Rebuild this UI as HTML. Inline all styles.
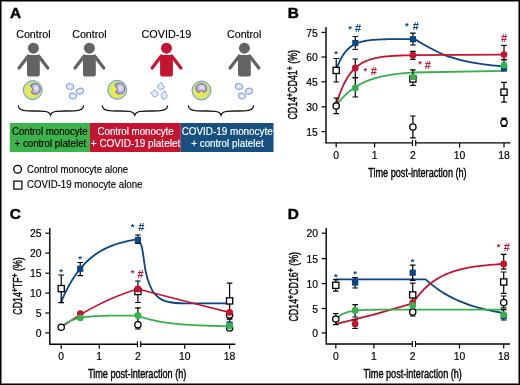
<!DOCTYPE html>
<html><head><meta charset="utf-8"><style>
html,body{margin:0;padding:0;background:#fff;}
#fig{position:relative;width:520px;height:385px;overflow:hidden;background:#fff;}
#fig svg{position:absolute;left:0;top:0;will-change:transform;}
#border{position:absolute;left:0;top:0;width:520px;height:385px;box-sizing:border-box;border:1px solid #000;box-shadow:inset 0 0 0 1px #7a7a7a;}
text{font-family:"Liberation Sans", sans-serif;}
</style></head><body><div id="fig">
<svg width="520" height="385" viewBox="0 0 520 385" font-family='"Liberation Sans", sans-serif'>
<defs><radialGradient id="gcell" cx="0.4" cy="0.6" r="0.62"><stop offset="0" stop-color="#f2f03c"/><stop offset="0.6" stop-color="#dde766"/><stop offset="1" stop-color="#c2de80"/></radialGradient><radialGradient id="gnuc" cx="0.55" cy="0.45" r="0.62"><stop offset="0" stop-color="#f4f0f8"/><stop offset="1" stop-color="#9a86c2"/></radialGradient><radialGradient id="gplt" cx="0.5" cy="0.55" r="0.6"><stop offset="0" stop-color="#eef3fc"/><stop offset="1" stop-color="#c9d8f2"/></radialGradient></defs><text x="9.9" y="18.4" font-size="15.4" text-anchor="start" fill="#000" font-weight="bold" stroke="#000" stroke-width="0.45" >A</text><text x="287.8" y="18.4" font-size="15.4" text-anchor="start" fill="#000" font-weight="bold" stroke="#000" stroke-width="0.45" >B</text><text x="9.7" y="219.2" font-size="15.4" text-anchor="start" fill="#000" font-weight="bold" stroke="#000" stroke-width="0.45" >C</text><text x="287.8" y="219.2" font-size="15.4" text-anchor="start" fill="#000" font-weight="bold" stroke="#000" stroke-width="0.45" >D</text><text x="33.4" y="37.6" font-size="10.7" text-anchor="middle" fill="#000" font-weight="normal" stroke="#000" stroke-width="0.15" >Control</text><text x="89.4" y="37.6" font-size="10.7" text-anchor="middle" fill="#000" font-weight="normal" stroke="#000" stroke-width="0.15" >Control</text><text x="166.4" y="37.7" font-size="10.8" text-anchor="middle" fill="#000" font-weight="normal" stroke="#000" stroke-width="0.15" >COVID-19</text><text x="244.2" y="37.6" font-size="10.7" text-anchor="middle" fill="#000" font-weight="normal" stroke="#000" stroke-width="0.15" >Control</text><g fill="#636363"><circle cx="33.4" cy="48.2" r="5.5"/><path d="M27,56.4 Q27,54.9 28.5,54.9 H38.3 Q39.8,54.9 39.8,56.4 V74.6 Q39.8,76.6 37.8,76.6 H29 Q27,76.6 27,74.6 Z"/><path d="M28.2,56 L19,68" stroke="#636363" stroke-width="3.2" stroke-linecap="round"/><path d="M38.6,56 L47.8,68" stroke="#636363" stroke-width="3.2" stroke-linecap="round"/></g><g fill="#636363"><circle cx="89.4" cy="48.2" r="5.5"/><path d="M83,56.4 Q83,54.9 84.5,54.9 H94.3 Q95.8,54.9 95.8,56.4 V74.6 Q95.8,76.6 93.8,76.6 H85 Q83,76.6 83,74.6 Z"/><path d="M84.2,56 L75,68" stroke="#636363" stroke-width="3.2" stroke-linecap="round"/><path d="M94.6,56 L103.8,68" stroke="#636363" stroke-width="3.2" stroke-linecap="round"/></g><g fill="#c51430"><circle cx="166.5" cy="48.2" r="5.5"/><path d="M160.1,56.4 Q160.1,54.9 161.6,54.9 H171.4 Q172.9,54.9 172.9,56.4 V74.6 Q172.9,76.6 170.9,76.6 H162.1 Q160.1,76.6 160.1,74.6 Z"/><path d="M161.3,56 L152.1,68" stroke="#c51430" stroke-width="3.2" stroke-linecap="round"/><path d="M171.7,56 L180.9,68" stroke="#c51430" stroke-width="3.2" stroke-linecap="round"/></g><g fill="#636363"><circle cx="244.4" cy="48.2" r="5.5"/><path d="M238,56.4 Q238,54.9 239.5,54.9 H249.3 Q250.8,54.9 250.8,56.4 V74.6 Q250.8,76.6 248.8,76.6 H240 Q238,76.6 238,74.6 Z"/><path d="M239.2,56 L230,68" stroke="#636363" stroke-width="3.2" stroke-linecap="round"/><path d="M249.6,56 L258.8,68" stroke="#636363" stroke-width="3.2" stroke-linecap="round"/></g><circle cx="32.7" cy="90.1" r="9.5" fill="#bcdc8e" stroke="#7594d6" stroke-width="1"/><circle cx="32.7" cy="90.1" r="8.3" fill="url(#gcell)"/><path d="M31.1,84.5 C35.7,81.7 41.3,85.1 40.1,90.5 C39.1,94.7 33.2,95.5 31.1,92.3 C32.3,90.7 33.3,88.7 32.5,87.9 C31.5,87.1 30.3,87.7 31.1,84.5 Z" fill="url(#gnuc)" stroke="#6460b4" stroke-width="0.9"/><circle cx="117.2" cy="89.8" r="9.5" fill="#bcdc8e" stroke="#7594d6" stroke-width="1"/><circle cx="117.2" cy="89.8" r="8.3" fill="url(#gcell)"/><path d="M115.6,84.2 C120.2,81.4 125.8,84.8 124.6,90.2 C123.6,94.4 117.7,95.2 115.6,92 C116.8,90.4 117.8,88.4 117,87.6 C116,86.8 114.8,87.4 115.6,84.2 Z" fill="url(#gnuc)" stroke="#6460b4" stroke-width="0.9"/><circle cx="201.5" cy="90.5" r="9.5" fill="#bcdc8e" stroke="#7594d6" stroke-width="1"/><circle cx="201.5" cy="90.5" r="8.3" fill="url(#gcell)"/><path d="M195.9,88.5 C195.1,82.9 206.1,81.5 206.5,88.1 C206.7,92.1 204.1,93.1 202.9,91.9 C202.3,90.1 200.7,89.9 200.1,91.7 C198.9,93.3 196.3,92.1 195.9,88.5 Z" fill="url(#gnuc)" stroke="#6460b4" stroke-width="0.9"/><ellipse cx="70" cy="86.5" rx="3.6" ry="2.9" transform="rotate(10 70 86.5)" fill="url(#gplt)" stroke="#809ddb" stroke-width="0.95"/><ellipse cx="80" cy="91.1" rx="3.6" ry="2.9" transform="rotate(-25 80 91.1)" fill="url(#gplt)" stroke="#809ddb" stroke-width="0.95"/><ellipse cx="72.9" cy="96" rx="3.6" ry="2.9" transform="rotate(15 72.9 96)" fill="url(#gplt)" stroke="#809ddb" stroke-width="0.95"/><ellipse cx="239" cy="86.5" rx="3.6" ry="2.9" transform="rotate(10 239 86.5)" fill="url(#gplt)" stroke="#809ddb" stroke-width="0.95"/><ellipse cx="249" cy="91.1" rx="3.6" ry="2.9" transform="rotate(-25 249 91.1)" fill="url(#gplt)" stroke="#809ddb" stroke-width="0.95"/><ellipse cx="241.9" cy="96" rx="3.6" ry="2.9" transform="rotate(15 241.9 96)" fill="url(#gplt)" stroke="#809ddb" stroke-width="0.95"/><path d="M164.18,86.35 C164.32,86.82 164.22,87.84 163.82,88.24 C163.41,88.63 162.25,88.38 161.74,88.71 C161.24,89.05 161.25,90.24 160.81,90.24 C160.38,90.23 159.66,89.2 159.12,88.67 C158.58,88.13 157.8,87.54 157.58,87.01 C157.36,86.48 157.52,85.85 157.78,85.47 C158.04,85.08 158.72,85.12 159.15,84.7 C159.59,84.27 159.85,83.14 160.39,82.93 C160.93,82.72 161.96,83.03 162.39,83.46 C162.81,83.88 162.65,84.98 162.95,85.47 C163.25,85.95 164.03,85.89 164.18,86.35Z" fill="#e2ebf9" stroke="#7d9bdb" stroke-width="0.95" stroke-linejoin="round"/><path d="M157.99,93.67 C157.95,94.05 157.57,94.68 157.3,95.13 C157.04,95.58 156.79,96.08 156.4,96.37 C156.01,96.66 155.52,96.88 154.96,96.86 C154.4,96.84 153.47,96.61 153.04,96.26 C152.61,95.9 152.77,95.3 152.38,94.74 C151.99,94.17 150.66,93.31 150.71,92.86 C150.76,92.41 152.05,92.54 152.69,92.07 C153.32,91.59 153.87,90.13 154.51,89.99 C155.15,89.85 156.03,90.74 156.54,91.22 C157.04,91.7 157.27,92.46 157.52,92.86 C157.76,93.27 158.02,93.29 157.99,93.67Z" fill="#e2ebf9" stroke="#7d9bdb" stroke-width="0.95" stroke-linejoin="round"/><path d="M167.08,95.35 C167.17,96 166.57,97.11 166.29,97.7 C166.01,98.29 165.78,98.67 165.41,98.89 C165.04,99.12 164.64,99.14 164.06,99.07 C163.49,99.01 162.33,98.91 161.98,98.52 C161.62,98.12 162.1,97.32 161.93,96.68 C161.76,96.05 160.79,95.27 160.96,94.7 C161.13,94.13 162.41,93.92 162.95,93.27 C163.49,92.61 163.77,90.99 164.21,90.77 C164.64,90.55 165.3,91.44 165.56,91.93 C165.82,92.43 165.52,93.19 165.77,93.76 C166.02,94.32 166.99,94.69 167.08,95.35Z" fill="#e2ebf9" stroke="#7d9bdb" stroke-width="0.95" stroke-linejoin="round"/><path d="M18.3,106 C18.5,109.6 21.3,110.6 27.3,110.9 C34.3,111.3 36.5,110.7 44.5,111.3 C48,111.6 49.7,112.6 50.5,115.1 C51.3,112.6 53,111.6 56.5,111.3 C64.5,110.7 67.5,111.3 74.5,110.9 C80.5,110.6 83.3,109.6 83.5,106" fill="none" stroke="#1a1a1a" stroke-width="1.35" stroke-linecap="round"/><path d="M102.3,106 C102.5,109.6 105.3,110.6 111.3,110.9 C118.3,111.3 120.8,110.7 128.8,111.3 C132.3,111.6 134,112.6 134.8,115.1 C135.6,112.6 137.3,111.6 140.8,111.3 C148.8,110.7 151.6,111.3 158.6,110.9 C164.6,110.6 167.4,109.6 167.6,106" fill="none" stroke="#1a1a1a" stroke-width="1.35" stroke-linecap="round"/><path d="M188.4,106 C188.6,109.6 191.4,110.6 197.4,110.9 C204.4,111.3 207,110.7 215,111.3 C218.5,111.6 220.2,112.6 221,115.1 C221.8,112.6 223.5,111.6 227,111.3 C235,110.7 237.5,111.3 244.5,110.9 C250.5,110.6 253.3,109.6 253.5,106" fill="none" stroke="#1a1a1a" stroke-width="1.35" stroke-linecap="round"/><rect x="9.8" y="123" width="80.2" height="29" fill="#3cb44b"/><rect x="90" y="123" width="90.8" height="29" fill="#c51430"/><rect x="180.8" y="123" width="92.7" height="29" fill="#155081"/><text x="49.8" y="135.4" font-size="10" text-anchor="middle" fill="#000" font-weight="normal" stroke="#000" stroke-width="0.15" textLength="75.8" lengthAdjust="spacingAndGlyphs">Control monocyte</text><text x="50.4" y="147.4" font-size="10" text-anchor="middle" fill="#000" font-weight="normal" stroke="#000" stroke-width="0.15" textLength="71.8" lengthAdjust="spacingAndGlyphs">+ control platelet</text><text x="135.6" y="135.4" font-size="10" text-anchor="middle" fill="#fff" font-weight="normal" stroke="#fff" stroke-width="0.15" textLength="76.3" lengthAdjust="spacingAndGlyphs">Control monocyte</text><text x="135.5" y="147.4" font-size="10" text-anchor="middle" fill="#fff" font-weight="normal" stroke="#fff" stroke-width="0.15" textLength="89.4" lengthAdjust="spacingAndGlyphs">+ COVID-19 platelet</text><text x="227.2" y="135.4" font-size="10" text-anchor="middle" fill="#fff" font-weight="normal" stroke="#fff" stroke-width="0.15" textLength="91" lengthAdjust="spacingAndGlyphs">COVID-19 monocyte</text><text x="227.5" y="147.4" font-size="10" text-anchor="middle" fill="#fff" font-weight="normal" stroke="#fff" stroke-width="0.15" textLength="72.5" lengthAdjust="spacingAndGlyphs">+ control platelet</text><circle cx="17.6" cy="169.3" r="3.85" fill="#fff" stroke="#000" stroke-width="1.3"/><rect x="13.9" y="181.1" width="8" height="8" fill="#fff" stroke="#000" stroke-width="1.2"/><text x="27" y="172.6" font-size="10" text-anchor="start" fill="#000" font-weight="normal" stroke="#000" stroke-width="0.15" textLength="101.2" lengthAdjust="spacingAndGlyphs">Control monocyte alone</text><text x="27" y="188.2" font-size="10" text-anchor="start" fill="#000" font-weight="normal" stroke="#000" stroke-width="0.15" textLength="115.5" lengthAdjust="spacingAndGlyphs">COVID-19 monocyte alone</text><path d="M326,27V142.9H510.5" fill="none" stroke="#000" stroke-width="1.4" stroke-linejoin="miter"/><path d="M321.5,32.4H326" stroke="#000" stroke-width="1.2"/><text x="317.8" y="36.5" font-size="10.4" text-anchor="end" fill="#000" font-weight="normal" stroke="#000" stroke-width="0.18">75</text><path d="M321.5,57H326" stroke="#000" stroke-width="1.2"/><text x="317.8" y="61.1" font-size="10.4" text-anchor="end" fill="#000" font-weight="normal" stroke="#000" stroke-width="0.18">60</text><path d="M321.5,81.8H326" stroke="#000" stroke-width="1.2"/><text x="317.8" y="85.9" font-size="10.4" text-anchor="end" fill="#000" font-weight="normal" stroke="#000" stroke-width="0.18">45</text><path d="M321.5,106.8H326" stroke="#000" stroke-width="1.2"/><text x="317.8" y="110.9" font-size="10.4" text-anchor="end" fill="#000" font-weight="normal" stroke="#000" stroke-width="0.18">30</text><path d="M321.5,131.6H326" stroke="#000" stroke-width="1.2"/><text x="317.8" y="135.7" font-size="10.4" text-anchor="end" fill="#000" font-weight="normal" stroke="#000" stroke-width="0.18">15</text><path d="M336.2,142.9V147.4" stroke="#000" stroke-width="1.2"/><text x="336.2" y="158.9" font-size="10.4" text-anchor="middle" fill="#000" font-weight="normal" stroke="#000" stroke-width="0.18">0</text><path d="M374.6,142.9V147.4" stroke="#000" stroke-width="1.2"/><text x="374.6" y="158.9" font-size="10.4" text-anchor="middle" fill="#000" font-weight="normal" stroke="#000" stroke-width="0.18">1</text><rect x="412.9" y="140.9" width="2.4" height="4" fill="#fff"/><path d="M412.5,140V146M415.7,140V146" stroke="#000" stroke-width="1.15"/><text x="412.9" y="158.9" font-size="10.4" text-anchor="middle" fill="#000" font-weight="normal" stroke="#000" stroke-width="0.18">2</text><path d="M459.6,142.9V147.4" stroke="#000" stroke-width="1.2"/><text x="459.6" y="158.9" font-size="10.4" text-anchor="middle" fill="#000" font-weight="normal" stroke="#000" stroke-width="0.18">10</text><path d="M504,142.9V147.4" stroke="#000" stroke-width="1.2"/><text x="504" y="158.9" font-size="10.4" text-anchor="middle" fill="#000" font-weight="normal" stroke="#000" stroke-width="0.18">18</text><text transform="translate(297.4,119.6) rotate(-90)" font-size="12.5" stroke="#000" stroke-width="0.4" textLength="69.6" lengthAdjust="spacingAndGlyphs">CD14<tspan font-size="9.5" font-weight="bold" dy="-4.2">+</tspan><tspan dy="4.2">CD41</tspan><tspan font-size="9.5" font-weight="bold" dy="-4.2">+</tspan><tspan dy="4.2"> (%)</tspan></text><text x="368.3" y="176.5" font-size="12" stroke="#000" stroke-width="0.4" textLength="98.3" lengthAdjust="spacingAndGlyphs">Time post-interaction (h)</text><path d="M336,70.4 L337.92,65.15 L339.85,60.77 L341.77,57.13 L343.69,54.1 L345.61,51.57 L347.53,49.47 L349.46,47.72 L351.38,46.26 L353.3,45.04 L355.23,44.03 L357.15,43.19 L359.07,42.49 L360.99,41.91 L362.91,41.42 L364.84,41.01 L366.76,40.68 L368.68,40.4 L370.61,40.16 L372.53,39.97 L374.45,39.81 L376.37,39.67 L378.29,39.56 L380.22,39.47 L382.14,39.39 L384.06,39.32 L385.99,39.27 L387.91,39.22 L389.83,39.19 L391.75,39.16 L393.67,39.13 L395.6,39.11 L397.52,39.09 L399.44,39.07 L401.37,39.06 L403.29,39.05 L405.21,39.04 L407.13,39.04 L409.05,39.03 L410.98,39.02 L412.9,39.02" fill="none" stroke="#0a4584" stroke-width="1.8" stroke-linecap="round" stroke-linejoin="round"/><path d="M412.9,39.2 C413.42,39.32 413.6,38.68 416,39.9 C418.4,41.12 422.72,44.05 427.3,46.5 C431.88,48.95 438.68,52.55 443.5,54.6 C448.32,56.65 451.78,57.55 456.2,58.8 C460.62,60.05 465.07,61.13 470,62.1 C474.93,63.07 480.13,63.88 485.8,64.6 C491.47,65.32 500.97,66.1 504,66.4" fill="none" stroke="#0a4584" stroke-width="1.8" stroke-linecap="round" stroke-linejoin="round"/><path d="M336,105.9 L337.92,99.41 L339.85,93.75 L341.77,88.81 L343.69,84.5 L345.61,80.74 L347.53,77.46 L349.46,74.6 L351.38,72.1 L353.3,69.92 L355.23,68.02 L357.15,66.36 L359.07,64.91 L360.99,63.65 L362.91,62.55 L364.84,61.58 L366.76,60.74 L368.68,60.01 L370.61,59.37 L372.53,58.82 L374.45,58.33 L376.37,57.91 L378.29,57.54 L380.22,57.21 L382.14,56.93 L384.06,56.68 L385.99,56.47 L387.91,56.28 L389.83,56.12 L391.75,55.98 L393.67,55.85 L395.6,55.74 L397.52,55.65 L399.44,55.57 L401.37,55.49 L403.29,55.43 L405.21,55.38 L407.13,55.33 L409.05,55.29 L410.98,55.25 L412.9,55.22 L504,54.6" fill="none" stroke="#c51430" stroke-width="1.8" stroke-linecap="round" stroke-linejoin="round"/><path d="M336,105.9 L337.92,103.31 L339.85,100.91 L341.77,98.69 L343.69,96.63 L345.61,94.73 L347.53,92.96 L349.46,91.33 L351.38,89.82 L353.3,88.42 L355.23,87.12 L357.15,85.92 L359.07,84.81 L360.99,83.78 L362.91,82.83 L364.84,81.94 L366.76,81.13 L368.68,80.37 L370.61,79.67 L372.53,79.02 L374.45,78.42 L376.37,77.86 L378.29,77.35 L380.22,76.87 L382.14,76.43 L384.06,76.02 L385.99,75.64 L387.91,75.29 L389.83,74.96 L391.75,74.66 L393.67,74.38 L395.6,74.13 L397.52,73.89 L399.44,73.67 L401.37,73.46 L403.29,73.27 L405.21,73.1 L407.13,72.93 L409.05,72.78 L410.98,72.64 L412.9,72.52 L504,70.9" fill="none" stroke="#35b34a" stroke-width="1.8" stroke-linecap="round" stroke-linejoin="round"/><path d="M336.2,58.5V82M333.4,58.5H339M333.4,82H339" stroke="#000" stroke-width="1.2" fill="none"/><rect x="333.1" y="67.3" width="6.2" height="6.2" fill="#fff" stroke="#000" stroke-width="1.3"/><text x="336" y="57.4" font-size="9.5" font-weight="bold" text-anchor="middle" fill="#0a4584">*</text><path d="M336.2,98V113.6M333.4,98H339M333.4,113.6H339" stroke="#000" stroke-width="1.2" fill="none"/><circle cx="336.2" cy="105.9" r="3.15" fill="#fff" stroke="#000" stroke-width="1.3"/><path d="M355.3,36.5V49.5M352.5,36.5H358.1M352.5,49.5H358.1" stroke="#000" stroke-width="1.2" fill="none"/><rect x="352.2" y="39.9" width="6.2" height="6.2" fill="#0a4584"/><text x="350" y="32.2" font-size="9.5" font-weight="bold" text-anchor="middle" fill="#0a4584">*</text><text x="355" y="31.7" font-size="11" font-weight="bold" fill="#0a4584">#</text><path d="M355.3,59V77.6M352.5,59H358.1M352.5,77.6H358.1" stroke="#000" stroke-width="1.2" fill="none"/><path d="M355.3,77.6V97M352.5,77.6H358.1M352.5,97H358.1" stroke="#000" stroke-width="1.2" fill="none"/><circle cx="355.3" cy="68" r="3.4" fill="#c51430"/><circle cx="355.3" cy="88" r="3.4" fill="#35b34a"/><text x="365.4" y="73.7" font-size="9.5" font-weight="bold" text-anchor="middle" fill="#c51430">*</text><text x="370.7" y="74.6" font-size="11" font-weight="bold" fill="#c51430">#</text><path d="M412.9,33.2V45M410.1,33.2H415.7M410.1,45H415.7" stroke="#000" stroke-width="1.2" fill="none"/><rect x="409.8" y="36.1" width="6.2" height="6.2" fill="#0a4584"/><text x="406.9" y="28.7" font-size="9.5" font-weight="bold" text-anchor="middle" fill="#0a4584">*</text><text x="412.7" y="29.7" font-size="11" font-weight="bold" fill="#0a4584">#</text><path d="M412.9,51.3V59.3M410.1,51.3H415.7M410.1,59.3H415.7" stroke="#000" stroke-width="1.2" fill="none"/><circle cx="412.9" cy="55.2" r="3.4" fill="#c51430"/><text x="420" y="67.3" font-size="9.5" font-weight="bold" text-anchor="middle" fill="#c51430">*</text><text x="424.7" y="68.5" font-size="11" font-weight="bold" fill="#c51430">#</text><path d="M412.9,69.8V85.3M410.1,69.8H415.7M410.1,85.3H415.7" stroke="#000" stroke-width="1.2" fill="none"/><rect x="409.8" y="75.9" width="6.2" height="6.2" fill="#fff" stroke="#000" stroke-width="1.3"/><circle cx="412.9" cy="77" r="3.2" fill="#35b34a"/><path d="M412.9,116V137.8M410.1,116H415.7M410.1,137.8H415.7" stroke="#000" stroke-width="1.2" fill="none"/><circle cx="412.9" cy="127" r="3.15" fill="#fff" stroke="#000" stroke-width="1.3"/><path d="M504,45.4V59.7M501.2,45.4H506.8M501.2,59.7H506.8" stroke="#000" stroke-width="1.2" fill="none"/><circle cx="504" cy="54.6" r="3.4" fill="#c51430"/><text x="500.9" y="41.8" font-size="11" font-weight="bold" fill="#c51430">#</text><path d="M504,59.7V70.6M501.2,59.7H506.8M501.2,70.6H506.8" stroke="#000" stroke-width="1.2" fill="none"/><rect x="500.9" y="65.2" width="6.2" height="6.2" fill="#0a4584"/><circle cx="504" cy="65.2" r="3.4" fill="#35b34a"/><path d="M504,82.4V102.2M501.2,82.4H506.8M501.2,102.2H506.8" stroke="#000" stroke-width="1.2" fill="none"/><rect x="500.9" y="89.1" width="6.2" height="6.2" fill="#fff" stroke="#000" stroke-width="1.3"/><path d="M504,118.2V126.4M501.2,118.2H506.8M501.2,126.4H506.8" stroke="#000" stroke-width="1.2" fill="none"/><circle cx="504" cy="122.4" r="3.15" fill="#fff" stroke="#000" stroke-width="1.3"/><path d="M49.8,228V344.2H235.3" fill="none" stroke="#000" stroke-width="1.4" stroke-linejoin="miter"/><path d="M45.3,233.2H49.8" stroke="#000" stroke-width="1.2"/><text x="41.6" y="237.3" font-size="10.4" text-anchor="end" fill="#000" font-weight="normal" stroke="#000" stroke-width="0.18">25</text><path d="M45.3,253.1H49.8" stroke="#000" stroke-width="1.2"/><text x="41.6" y="257.2" font-size="10.4" text-anchor="end" fill="#000" font-weight="normal" stroke="#000" stroke-width="0.18">20</text><path d="M45.3,273.2H49.8" stroke="#000" stroke-width="1.2"/><text x="41.6" y="277.3" font-size="10.4" text-anchor="end" fill="#000" font-weight="normal" stroke="#000" stroke-width="0.18">15</text><path d="M45.3,293.1H49.8" stroke="#000" stroke-width="1.2"/><text x="41.6" y="297.2" font-size="10.4" text-anchor="end" fill="#000" font-weight="normal" stroke="#000" stroke-width="0.18">10</text><path d="M45.3,313H49.8" stroke="#000" stroke-width="1.2"/><text x="41.6" y="317.1" font-size="10.4" text-anchor="end" fill="#000" font-weight="normal" stroke="#000" stroke-width="0.18">5</text><path d="M45.3,332.9H49.8" stroke="#000" stroke-width="1.2"/><text x="41.6" y="337" font-size="10.4" text-anchor="end" fill="#000" font-weight="normal" stroke="#000" stroke-width="0.18">0</text><path d="M61.2,344.2V348.7" stroke="#000" stroke-width="1.2"/><text x="61.2" y="360.2" font-size="10.4" text-anchor="middle" fill="#000" font-weight="normal" stroke="#000" stroke-width="0.18">0</text><path d="M99.2,344.2V348.7" stroke="#000" stroke-width="1.2"/><text x="99.2" y="360.2" font-size="10.4" text-anchor="middle" fill="#000" font-weight="normal" stroke="#000" stroke-width="0.18">1</text><rect x="137.9" y="342.2" width="2.4" height="4" fill="#fff"/><path d="M137.5,341.3V347.3M140.7,341.3V347.3" stroke="#000" stroke-width="1.15"/><text x="137.9" y="360.2" font-size="10.4" text-anchor="middle" fill="#000" font-weight="normal" stroke="#000" stroke-width="0.18">2</text><path d="M184.7,344.2V348.7" stroke="#000" stroke-width="1.2"/><text x="184.7" y="360.2" font-size="10.4" text-anchor="middle" fill="#000" font-weight="normal" stroke="#000" stroke-width="0.18">10</text><path d="M229.6,344.2V348.7" stroke="#000" stroke-width="1.2"/><text x="229.6" y="360.2" font-size="10.4" text-anchor="middle" fill="#000" font-weight="normal" stroke="#000" stroke-width="0.18">18</text><text transform="translate(21.7,314.7) rotate(-90)" font-size="12.5" stroke="#000" stroke-width="0.4" textLength="57.4" lengthAdjust="spacingAndGlyphs">CD14<tspan font-size="9.5" font-weight="bold" dy="-4.2">+</tspan><tspan dy="4.2">TF</tspan><tspan font-size="9.5" font-weight="bold" dy="-4.2">+</tspan><tspan dy="4.2"> (%)</tspan></text><text x="88" y="377.7" font-size="12" stroke="#000" stroke-width="0.4" textLength="98.3" lengthAdjust="spacingAndGlyphs">Time post-interaction (h)</text><path d="M61,302.4 L62.92,297.88 L64.84,293.66 L66.77,289.73 L68.69,286.06 L70.61,282.64 L72.53,279.44 L74.46,276.46 L76.38,273.68 L78.3,271.09 L80.22,268.67 L82.15,266.41 L84.07,264.31 L85.99,262.34 L87.92,260.51 L89.84,258.8 L91.76,257.2 L93.68,255.71 L95.61,254.32 L97.53,253.03 L99.45,251.82 L101.37,250.69 L103.3,249.64 L105.22,248.66 L107.14,247.74 L109.06,246.89 L110.98,246.09 L112.91,245.35 L114.83,244.65 L116.75,244.01 L118.67,243.4 L120.6,242.84 L122.52,242.31 L124.44,241.82 L126.37,241.37 L128.29,240.94 L130.21,240.54 L132.13,240.17 L134.06,239.82 L135.98,239.5 L137.9,239.2" fill="none" stroke="#0a4584" stroke-width="1.8" stroke-linecap="round" stroke-linejoin="round"/><path d="M137.9,240 C138.35,240.58 139.82,241.7 140.6,243.5 C141.38,245.3 141.77,246.22 142.6,250.8 C143.43,255.38 144.42,265.3 145.6,271 C146.78,276.7 148.15,281.13 149.7,285 C151.25,288.87 152.65,291.63 154.9,294.2 C157.15,296.77 159.73,298.93 163.2,300.4 C166.67,301.87 171.23,302.5 175.7,303 C180.17,303.5 181.02,303.33 190,303.4 C198.98,303.47 223,303.4 229.6,303.4" fill="none" stroke="#0a4584" stroke-width="1.8" stroke-linecap="round" stroke-linejoin="round"/><path d="M61.2,327.2 Q100,300 137.9,289 Q180,300 229.6,312.4" fill="none" stroke="#c51430" stroke-width="1.8" stroke-linecap="round" stroke-linejoin="round"/><path d="M61,327.2 L62.92,325.47 L64.84,323.99 L66.77,322.74 L68.69,321.66 L70.61,320.75 L72.53,319.97 L74.46,319.31 L76.38,318.75 L78.3,318.27 L80.22,317.86 L82.15,317.51 L84.07,317.21 L85.99,316.96 L87.92,316.74 L89.84,316.56 L91.76,316.4 L93.68,316.27 L95.61,316.15 L97.53,316.06 L99.45,315.97 L101.37,315.9 L103.3,315.84 L105.22,315.79 L107.14,315.75 L109.06,315.71 L110.98,315.68 L112.91,315.65 L114.83,315.63 L116.75,315.61 L118.67,315.6 L120.6,315.58 L122.52,315.57 L124.44,315.56 L126.37,315.55 L128.29,315.54 L130.21,315.54 L132.13,315.53 L134.06,315.53 L135.98,315.52 L137.9,315.52 L137.9,315.7 L140.19,316.56 L142.49,317.35 L144.78,318.07 L147.07,318.74 L149.36,319.36 L151.66,319.93 L153.95,320.46 L156.24,320.94 L158.53,321.38 L160.82,321.79 L163.12,322.17 L165.41,322.52 L167.7,322.84 L170,323.14 L172.29,323.41 L174.58,323.66 L176.87,323.89 L179.17,324.1 L181.46,324.3 L183.75,324.48 L186.04,324.65 L188.33,324.8 L190.63,324.94 L192.92,325.07 L195.21,325.19 L197.5,325.3 L199.8,325.41 L202.09,325.5 L204.38,325.59 L206.68,325.67 L208.97,325.74 L211.26,325.81 L213.55,325.87 L215.84,325.93 L218.14,325.98 L220.43,326.03 L222.72,326.07 L225.01,326.11 L227.31,326.15 L229.6,326.19" fill="none" stroke="#35b34a" stroke-width="1.8" stroke-linecap="round" stroke-linejoin="round"/><path d="M61.2,275V302.6M58.4,275H64M58.4,302.6H64" stroke="#000" stroke-width="1.2" fill="none"/><rect x="58.1" y="285.5" width="6.2" height="6.2" fill="#fff" stroke="#000" stroke-width="1.3"/><text x="61.2" y="274.7" font-size="9.5" font-weight="bold" text-anchor="middle" fill="#0a4584">*</text><circle cx="61.2" cy="327.2" r="3.15" fill="#fff" stroke="#000" stroke-width="1.3"/><path d="M80.2,262.5V275.6M77.4,262.5H83M77.4,275.6H83" stroke="#000" stroke-width="1.2" fill="none"/><rect x="77.1" y="265.7" width="6.2" height="6.2" fill="#0a4584"/><text x="80.2" y="261.7" font-size="9.5" font-weight="bold" text-anchor="middle" fill="#0a4584">*</text><circle cx="80.3" cy="313.6" r="3.4" fill="#c51430"/><circle cx="80.3" cy="317.8" r="3.4" fill="#35b34a"/><path d="M137.9,235V243.3M135.1,235H140.7M135.1,243.3H140.7" stroke="#000" stroke-width="1.2" fill="none"/><rect x="134.8" y="236.9" width="6.2" height="6.2" fill="#0a4584"/><text x="132.5" y="230.4" font-size="9.5" font-weight="bold" text-anchor="middle" fill="#0a4584">*</text><text x="138.3" y="231.1" font-size="11" font-weight="bold" fill="#0a4584">#</text><text x="132.5" y="276.2" font-size="9.5" font-weight="bold" text-anchor="middle" fill="#c51430">*</text><text x="137.6" y="277.5" font-size="11" font-weight="bold" fill="#c51430">#</text><path d="M137.9,281V302.5M135.1,281H140.7M135.1,302.5H140.7" stroke="#000" stroke-width="1.2" fill="none"/><rect x="134.8" y="288.4" width="6.2" height="6.2" fill="#fff" stroke="#000" stroke-width="1.3"/><circle cx="137.9" cy="289" r="3.4" fill="#c51430"/><path d="M137.9,307.9V329M135.1,307.9H140.7M135.1,329H140.7" stroke="#000" stroke-width="1.2" fill="none"/><circle cx="137.9" cy="324.8" r="3.15" fill="#fff" stroke="#000" stroke-width="1.3"/><circle cx="137.9" cy="315.5" r="3.4" fill="#35b34a"/><path d="M229.6,283.1V319M226.8,283.1H232.4M226.8,319H232.4" stroke="#000" stroke-width="1.2" fill="none"/><rect x="226.5" y="297.8" width="6.2" height="6.2" fill="#fff" stroke="#000" stroke-width="1.3"/><circle cx="229.6" cy="315" r="3.15" fill="#fff" stroke="#000" stroke-width="1.3"/><circle cx="229.6" cy="312.4" r="3.4" fill="#c51430"/><path d="M229.6,319V330M226.8,319H232.4M226.8,330H232.4" stroke="#000" stroke-width="1.2" fill="none"/><circle cx="229.6" cy="328" r="3.15" fill="#fff" stroke="#000" stroke-width="1.3"/><rect x="226.5" y="321.4" width="6.2" height="6.2" fill="#0a4584"/><circle cx="229.6" cy="326" r="3.4" fill="#35b34a"/><path d="M326.2,228V344H510" fill="none" stroke="#000" stroke-width="1.4" stroke-linejoin="miter"/><path d="M321.7,233.2H326.2" stroke="#000" stroke-width="1.2"/><text x="318" y="237.3" font-size="10.4" text-anchor="end" fill="#000" font-weight="normal" stroke="#000" stroke-width="0.18">20</text><path d="M321.7,258.6H326.2" stroke="#000" stroke-width="1.2"/><text x="318" y="262.7" font-size="10.4" text-anchor="end" fill="#000" font-weight="normal" stroke="#000" stroke-width="0.18">15</text><path d="M321.7,283.6H326.2" stroke="#000" stroke-width="1.2"/><text x="318" y="287.7" font-size="10.4" text-anchor="end" fill="#000" font-weight="normal" stroke="#000" stroke-width="0.18">10</text><path d="M321.7,308.5H326.2" stroke="#000" stroke-width="1.2"/><text x="318" y="312.6" font-size="10.4" text-anchor="end" fill="#000" font-weight="normal" stroke="#000" stroke-width="0.18">5</text><path d="M321.7,332.9H326.2" stroke="#000" stroke-width="1.2"/><text x="318" y="337" font-size="10.4" text-anchor="end" fill="#000" font-weight="normal" stroke="#000" stroke-width="0.18">0</text><path d="M335.8,344V348.5" stroke="#000" stroke-width="1.2"/><text x="335.8" y="360" font-size="10.4" text-anchor="middle" fill="#000" font-weight="normal" stroke="#000" stroke-width="0.18">0</text><path d="M373.9,344V348.5" stroke="#000" stroke-width="1.2"/><text x="373.9" y="360" font-size="10.4" text-anchor="middle" fill="#000" font-weight="normal" stroke="#000" stroke-width="0.18">1</text><rect x="412.7" y="342" width="2.4" height="4" fill="#fff"/><path d="M412.3,341.1V347.1M415.5,341.1V347.1" stroke="#000" stroke-width="1.15"/><text x="412.7" y="360" font-size="10.4" text-anchor="middle" fill="#000" font-weight="normal" stroke="#000" stroke-width="0.18">2</text><path d="M459.5,344V348.5" stroke="#000" stroke-width="1.2"/><text x="459.5" y="360" font-size="10.4" text-anchor="middle" fill="#000" font-weight="normal" stroke="#000" stroke-width="0.18">10</text><path d="M503.7,344V348.5" stroke="#000" stroke-width="1.2"/><text x="503.7" y="360" font-size="10.4" text-anchor="middle" fill="#000" font-weight="normal" stroke="#000" stroke-width="0.18">18</text><text transform="translate(297.9,321.6) rotate(-90)" font-size="12.5" stroke="#000" stroke-width="0.4" textLength="69.6" lengthAdjust="spacingAndGlyphs">CD14<tspan font-size="9.5" font-weight="bold" dy="-4.2">+</tspan><tspan dy="4.2">CD16</tspan><tspan font-size="9.5" font-weight="bold" dy="-4.2">+</tspan><tspan dy="4.2"> (%)</tspan></text><text x="363.6" y="377.7" font-size="12" stroke="#000" stroke-width="0.4" textLength="98.3" lengthAdjust="spacingAndGlyphs">Time post-interaction (h)</text><path d="M335.8,279.3 L425.6,279.3 L425.6,279.3 L427.55,281.07 L429.5,282.76 L431.46,284.38 L433.41,285.93 L435.36,287.4 L437.31,288.82 L439.27,290.17 L441.22,291.46 L443.17,292.7 L445.12,293.88 L447.08,295.01 L449.03,296.1 L450.98,297.13 L452.94,298.12 L454.89,299.06 L456.84,299.97 L458.79,300.83 L460.75,301.66 L462.7,302.45 L464.65,303.2 L466.6,303.93 L468.56,304.62 L470.51,305.28 L472.46,305.91 L474.41,306.51 L476.37,307.09 L478.32,307.64 L480.27,308.17 L482.22,308.68 L484.18,309.16 L486.13,309.62 L488.08,310.06 L490.03,310.48 L491.99,310.89 L493.94,311.27 L495.89,311.64 L497.84,311.99 L499.79,312.33 L501.75,312.65 L503.7,312.96" fill="none" stroke="#0a4584" stroke-width="1.8" stroke-linecap="round" stroke-linejoin="round"/><path d="M335.8,324.2 Q375,315 412.7,303.4 L412.7,303.4 L414.97,300.05 L417.25,296.98 L419.52,294.16 L421.8,291.57 L424.07,289.2 L426.35,287.02 L428.62,285.02 L430.9,283.18 L433.18,281.49 L435.45,279.95 L437.72,278.53 L440,277.23 L442.27,276.03 L444.55,274.94 L446.82,273.93 L449.1,273.01 L451.38,272.16 L453.65,271.38 L455.93,270.67 L458.2,270.01 L460.47,269.41 L462.75,268.86 L465.02,268.35 L467.3,267.89 L469.57,267.46 L471.85,267.07 L474.12,266.71 L476.4,266.38 L478.67,266.08 L480.95,265.8 L483.23,265.54 L485.5,265.31 L487.77,265.09 L490.05,264.9 L492.32,264.72 L494.6,264.55 L496.88,264.4 L499.15,264.26 L501.42,264.13 L503.7,264.01" fill="none" stroke="#c51430" stroke-width="1.8" stroke-linecap="round" stroke-linejoin="round"/><path d="M335.8,319 L340,315.5 L344.19,313.3 L348.39,311.92 L352.59,311.06 L356.79,310.51 L360.99,310.17 L365.18,309.96 L369.38,309.83 L373.58,309.74 L377.77,309.69 L381.97,309.66 L386.17,309.63 L390.37,309.62 L394.56,309.61 L398.76,309.61 L402.96,309.61 L407.16,309.6 L411.36,309.6 L415.55,309.6 L419.75,309.6 L423.95,309.6 L428.14,309.6 L432.34,309.6 L436.54,309.6 L440.74,309.6 L444.94,309.6 L449.13,309.6 L453.33,309.6 L457.53,309.6 L461.73,309.6 L465.92,309.6 L470.12,309.6 L474.32,309.6 L478.51,309.6 L482.71,309.6 L486.91,309.6 L491.11,309.6 L495.3,309.6 L499.5,309.6 L503.7,309.6" fill="none" stroke="#35b34a" stroke-width="1.8" stroke-linecap="round" stroke-linejoin="round"/><path d="M335.8,279.7V291.1M333,279.7H338.6M333,291.1H338.6" stroke="#000" stroke-width="1.2" fill="none"/><rect x="332.7" y="282.2" width="6.2" height="6.2" fill="#fff" stroke="#000" stroke-width="1.3"/><text x="335.8" y="279.5" font-size="9.5" font-weight="bold" text-anchor="middle" fill="#0a4584">*</text><path d="M335.8,313.5V324.7M333,313.5H338.6M333,324.7H338.6" stroke="#000" stroke-width="1.2" fill="none"/><circle cx="335.8" cy="319.1" r="3.15" fill="#fff" stroke="#000" stroke-width="1.3"/><path d="M355.1,277.6V288M352.3,277.6H357.9M352.3,288H357.9" stroke="#000" stroke-width="1.2" fill="none"/><rect x="351.9" y="279.2" width="6.4" height="6.4" fill="#0a4584"/><text x="355.1" y="276.8" font-size="9.5" font-weight="bold" text-anchor="middle" fill="#0a4584">*</text><path d="M355.1,304.6V317M352.3,304.6H357.9M352.3,317H357.9" stroke="#000" stroke-width="1.2" fill="none"/><circle cx="355.1" cy="310.4" r="3.4" fill="#35b34a"/><path d="M355.1,320V328.5M352.3,320H357.9M352.3,328.5H357.9" stroke="#000" stroke-width="1.2" fill="none"/><circle cx="355.1" cy="323.9" r="3.4" fill="#c51430"/><path d="M412.7,265.2V280.4M409.9,265.2H415.5M409.9,280.4H415.5" stroke="#000" stroke-width="1.2" fill="none"/><rect x="409.6" y="269.6" width="6.2" height="6.2" fill="#0a4584"/><text x="412.7" y="264.7" font-size="9.5" font-weight="bold" text-anchor="middle" fill="#0a4584">*</text><path d="M412.7,283.2V316M409.9,283.2H415.5M409.9,316H415.5" stroke="#000" stroke-width="1.2" fill="none"/><rect x="409.6" y="291.8" width="6.2" height="6.2" fill="#fff" stroke="#000" stroke-width="1.3"/><circle cx="412.7" cy="311.9" r="3.15" fill="#fff" stroke="#000" stroke-width="1.3"/><circle cx="412.7" cy="302.6" r="3.4" fill="#c51430"/><circle cx="412.7" cy="305.4" r="3.4" fill="#35b34a"/><path d="M503.7,254.3V269.2M500.9,254.3H506.5M500.9,269.2H506.5" stroke="#000" stroke-width="1.2" fill="none"/><circle cx="503.7" cy="264" r="3.4" fill="#c51430"/><text x="498.5" y="249.9" font-size="9.5" font-weight="bold" text-anchor="middle" fill="#c51430">*</text><text x="503.8" y="250.8" font-size="11" font-weight="bold" fill="#c51430">#</text><path d="M503.7,272V293.3M500.9,272H506.5M500.9,293.3H506.5" stroke="#000" stroke-width="1.2" fill="none"/><rect x="500.6" y="278.9" width="6.2" height="6.2" fill="#fff" stroke="#000" stroke-width="1.3"/><path d="M503.7,296V307.8M500.9,296H506.5M500.9,307.8H506.5" stroke="#000" stroke-width="1.2" fill="none"/><circle cx="503.7" cy="302.6" r="3.15" fill="#fff" stroke="#000" stroke-width="1.3"/><path d="M503.7,309.6V320M500.9,309.6H506.5M500.9,320H506.5" stroke="#000" stroke-width="1.2" fill="none"/><rect x="500.6" y="312.9" width="6.2" height="6.2" fill="#0a4584"/><circle cx="503.7" cy="314.8" r="3.4" fill="#35b34a"/>
</svg><div id="border"></div></div></body></html>
